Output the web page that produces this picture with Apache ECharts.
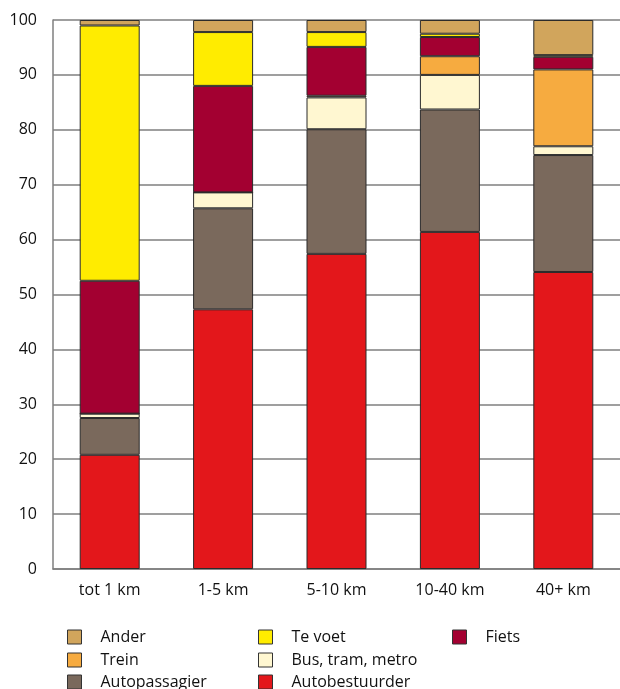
<!DOCTYPE html>
<html>
<head>
<meta charset="utf-8">
<script src="https://cdn.jsdelivr.net/npm/echarts@6/dist/echarts.min.js"></script>
<style>
  html, body { margin: 0; padding: 0; background: #fff; }
  #chart { width: 620px; height: 689px; }
</style>
</head>
<body>
<div id="chart"></div>
<script>
var categories = ['tot 1 km', '1-5 km', '5-10 km', '10-40 km', '40+ km'];

// percentages, bottom to top of each bar
var autobestuurder = [20.8, 47.3, 57.4, 61.4, 54.1];
var autopassagier = [6.7, 18.4, 22.7, 22.3, 21.3];
var busTramMetro = [0.8, 2.9, 5.8, 6.3, 1.6];
var trein = [0, 0, 0.3, 3.4, 14.0];
var fiets = [24.2, 19.4, 8.9, 3.5, 2.3];
var teVoet = [46.5, 9.8, 2.7, 0.6, 0.3];
var ander = [1.0, 2.2, 2.2, 2.5, 6.4];

var yTicks = [0, 10, 20, 30, 40, 50, 60, 70, 80, 90, 100];

var seriesDefs = [
  { name: 'Autobestuurder', data: autobestuurder, color: '#e3171b' },
  { name: 'Autopassagier', data: autopassagier, color: '#7a695c' },
  { name: 'Bus, tram, metro', data: busTramMetro, color: '#fff7d1' },
  { name: 'Trein', data: trein, color: '#f6ab40' },
  { name: 'Fiets', data: fiets, color: '#a30031' },
  { name: 'Te voet', data: teVoet, color: '#ffec00' },
  { name: 'Ander', data: ander, color: '#d1a55c' }
];

// legend layout: 3 columns, filled row by row
var legendRows = [
  ['Ander', 'Te voet', 'Fiets'],
  ['Trein', 'Bus, tram, metro'],
  ['Autopassagier', 'Autobestuurder']
];
var legendColX = [67, 258, 452];
var legendRowY = [629, 652, 674];

var font = '"Open Sans", "Noto Sans", sans-serif';

var chart = echarts.init(document.getElementById('chart'));

var legends = [];
legendRows.forEach(function (row, r) {
  row.forEach(function (name, c) {
    legends.push({
      left: legendColX[c],
      top: legendRowY[r],
      padding: 0,
      itemWidth: 14,
      itemHeight: 14,
      icon: 'rect',
      selectedMode: false,
      data: [name],
      itemStyle: { borderColor: '#333', borderWidth: 1 },
      textStyle: {
        fontFamily: font,
        fontSize: 16,
        color: '#111',
        padding: [0, 0, 0, 14]
      }
    });
  });
});

var option = {
  animation: false,
  grid: { left: 53, right: 0, top: 20, bottom: 120 },
  legend: legends,
  xAxis: {
    type: 'category',
    data: categories,
    axisLine: { lineStyle: { color: '#7f7f7f', width: 1.5 } },
    axisTick: { inside: true, length: 11, lineStyle: { color: '#555', width: 1 } },
    axisLabel: { margin: 13, fontFamily: font, fontSize: 16, color: '#111' }
  },
  yAxis: {
    type: 'value',
    min: yTicks[0],
    max: yTicks[yTicks.length - 1],
    interval: 10,
    axisLine: { show: true, lineStyle: { color: '#7f7f7f', width: 1.5 } },
    axisTick: { show: false },
    splitLine: { lineStyle: { color: '#7f7f7f', width: 1.5 } },
    axisLabel: { margin: 16, fontFamily: font, fontSize: 16, color: '#111' }
  },
  series: seriesDefs.map(function (s) {
    return {
      name: s.name,
      type: 'bar',
      stack: 'total',
      barWidth: 60,
      data: s.data,
      itemStyle: { color: s.color, borderColor: '#2b2b2b', borderWidth: 1 }
    };
  })
};

chart.setOption(option);
</script>
</body>
</html>
